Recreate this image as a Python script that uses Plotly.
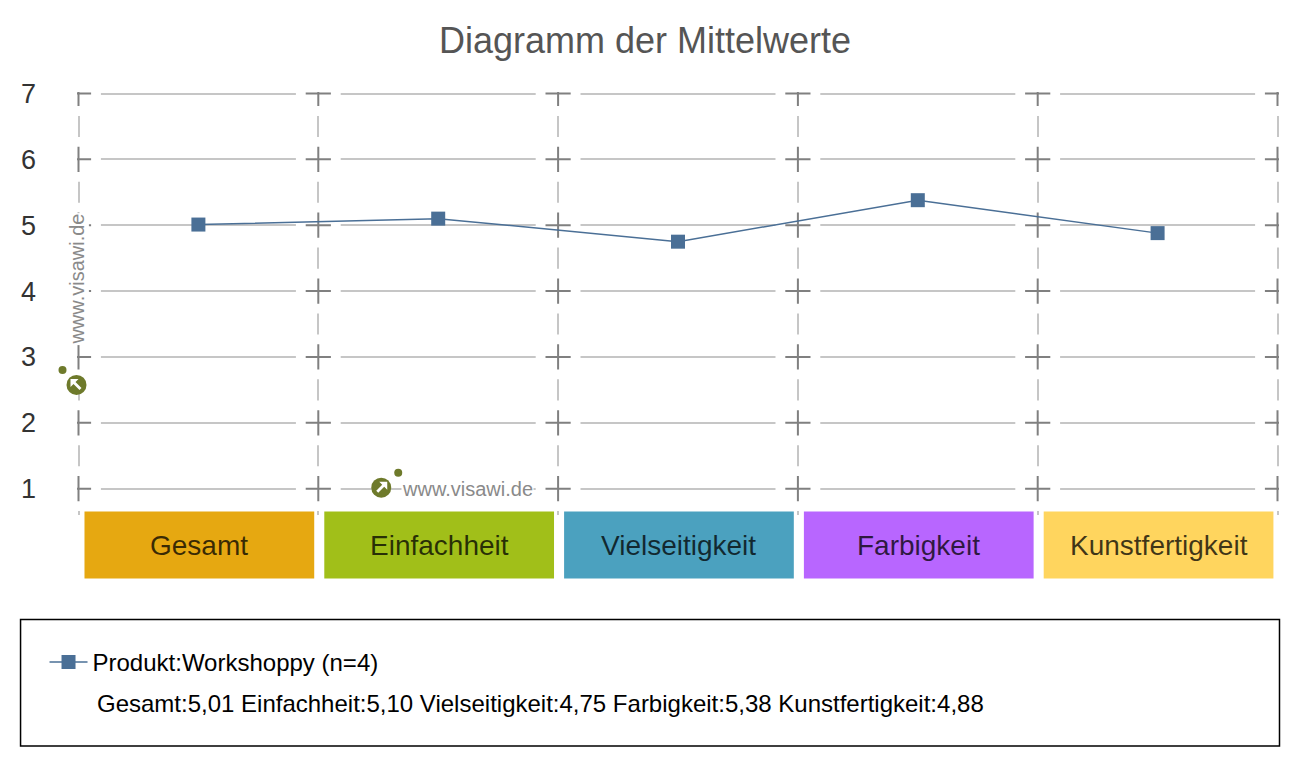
import plotly.graph_objects as go

# data
categories = ["Gesamt", "Einfachheit", "Vielseitigkeit", "Farbigkeit", "Kunstfertigkeit"]
means = [5.01, 5.10, 4.75, 5.38, 4.88]
series_name = "Produkt:Workshoppy (n=4)"
y_ticks = [1, 2, 3, 4, 5, 6, 7]
box_colors = ["#E6A811", "#A1BF19", "#4BA1BF", "#B866FF", "#FFD55E"]

# the page body adds an 8px margin, so the figure is a bit smaller than the window
OFF = 8
PAD = 1.5  # plotly drops grid lines closer than 1px to the plot edge
X_UNIT, Y_UNIT = 240, 66
W, H = 1300 - 2 * OFF, 768 - 2 * OFF
L, T = 78 - OFF - PAD, 93 - OFF - PAD
PLOT_W = 1200 + 2 * PAD
PLOT_H = 6.4 * Y_UNIT + PAD
R = W - L - PLOT_W
B = H - T - PLOT_H

LINE_COLOR = "#4A6F96"
GRID_COLOR = "#c6c6c6"
LOGO_GREEN = "#6E7A2B"


def px_x(p):
    # reference pixel -> paper x
    return (p - OFF - L) / PLOT_W


def px_y(p):
    # reference pixel -> paper y
    return (T + PLOT_H - (p - OFF)) / PLOT_H


x_idx = list(range(len(categories)))
bounds = [i - 0.5 for i in range(len(categories) + 1)]
cross_x = [b for b in bounds for _ in y_ticks]
cross_y = [t for _ in bounds for t in y_ticks]

fig = go.Figure()

# white halo leaves the gaps in the grid around every tick cross
fig.add_trace(go.Scatter(
    x=cross_x, y=cross_y, mode="markers",
    marker=dict(symbol="cross-thin", size=32, line=dict(color="#ffffff", width=6)),
    hoverinfo="skip", showlegend=False,
))
fig.add_trace(go.Scatter(
    x=cross_x, y=cross_y, mode="markers",
    marker=dict(symbol="cross-thin", size=18, line=dict(color="#808080", width=2)),
    hoverinfo="skip", showlegend=False,
))

fig.add_trace(go.Scatter(
    x=x_idx,
    y=means,
    mode="lines+markers",
    name=series_name,
    line=dict(color=LINE_COLOR, width=1.5),
    marker=dict(symbol="square", size=14, color=LINE_COLOR),
))

shapes = []
annotations = []

# coloured category boxes under the plot
for i, (cat, col) in enumerate(zip(categories, box_colors)):
    shapes.append(dict(
        type="rect", xref="x", yref="paper",
        x0=i - 0.475, x1=i + 0.483, y0=px_y(579), y1=px_y(512),
        fillcolor=col, line=dict(width=0), layer="above",
    ))
    annotations.append(dict(
        x=i + 0.004, y=px_y(546), xref="x", yref="paper",
        xanchor="center", yanchor="middle",
        text=cat, showarrow=False,
        font=dict(size=28, color="rgba(0,0,0,0.75)"),
    ))

# legend frame
shapes.append(dict(
    type="rect", xref="paper", yref="paper",
    x0=px_x(20), x1=px_x(1280), y0=px_y(747), y1=px_y(620),
    line=dict(color="#000000", width=1.5), fillcolor="rgba(0,0,0,0)",
))

summary = " ".join(f"{c}:{v:.2f}".replace(".", ",") for c, v in zip(categories, means))
annotations.append(dict(
    x=px_x(95), y=px_y(704), xref="paper", yref="paper",
    xanchor="left", yanchor="middle", text=summary, showarrow=False,
    font=dict(size=24, color="#000000"),
))

# watermarks
annotations.append(dict(
    x=px_x(467), y=px_y(489), xref="paper", yref="paper",
    xanchor="center", yanchor="middle",
    text="www.visawi.de", showarrow=False, bgcolor="#ffffff", borderpad=0,
    font=dict(size=20, color="#8a8a8a"),
))
annotations.append(dict(
    x=px_x(77), y=px_y(279), xref="paper", yref="paper", textangle=-90,
    xanchor="center", yanchor="middle",
    text="www.visawi.de", showarrow=False, bgcolor="#ffffff", borderpad=0,
    font=dict(size=20, color="#8a8a8a"),
))


def logo(cx, cy, dx, dy, mirror):
    base = dict(xref="paper", yref="paper", xsizemode="pixel", ysizemode="pixel",
                xanchor=px_x(cx), yanchor=px_y(cy), layer="above")
    out = [dict(type="circle", x0=-10, x1=10, y0=-10, y1=10,
                fillcolor=LOGO_GREEN, line=dict(width=0), **base)]
    pts = [(6, 6), (6, -2), (3, 1), (-3, -5), (-5, -3), (1, 3), (-2, 6)]
    if mirror:
        pts = [(-a, b) for a, b in pts]
    path = "M" + " L".join(f"{a},{b}" for a, b in pts) + " Z"
    out.append(dict(type="path", path=path, fillcolor="#ffffff", line=dict(width=0), **base))
    out.append(dict(type="circle", xref="paper", yref="paper", xsizemode="pixel",
                    ysizemode="pixel", xanchor=px_x(cx + dx), yanchor=px_y(cy + dy),
                    x0=-4, x1=4, y0=-4, y1=4,
                    fillcolor=LOGO_GREEN, line=dict(width=0), layer="above"))
    return out


shapes += logo(381, 488, 17, -15, False)
shapes += logo(76, 385, -14, -15, True)

fig.update_layout(
    width=W, height=H,
    margin=dict(l=L, r=R, t=T, b=B),
    paper_bgcolor="#ffffff", plot_bgcolor="#ffffff",
    font=dict(family="Liberation Sans, Arial, sans-serif", color="#333333"),
    title=dict(text="Diagramm der Mittelwerte", x=(645 - OFF) / W, xref="container",
               y=1 - (40 - OFF) / H, yref="container", xanchor="center", yanchor="middle",
               font=dict(size=36, color="#555555")),
    xaxis=dict(range=[-0.5 - PAD / X_UNIT, len(categories) - 0.5 + PAD / X_UNIT],
               tickvals=bounds, showticklabels=False,
               showgrid=True, gridcolor=GRID_COLOR, gridwidth=2,
               zeroline=False, showline=False, ticks=""),
    yaxis=dict(range=[0.6, 7 + PAD / Y_UNIT], tickvals=y_ticks, showgrid=True,
               gridcolor=GRID_COLOR, gridwidth=2, zeroline=False, showline=False,
               ticks="", ticklabelstandoff=40, tickfont=dict(size=27, color="#333333")),
    showlegend=True,
    legend=dict(x=px_x(44), y=px_y(663), xref="paper", yref="paper",
                xanchor="left", yanchor="middle", bgcolor="rgba(0,0,0,0)",
                font=dict(size=24, color="#000000"), itemwidth=38),
    shapes=shapes,
    annotations=annotations,
)

fig.write_html("out.html")
